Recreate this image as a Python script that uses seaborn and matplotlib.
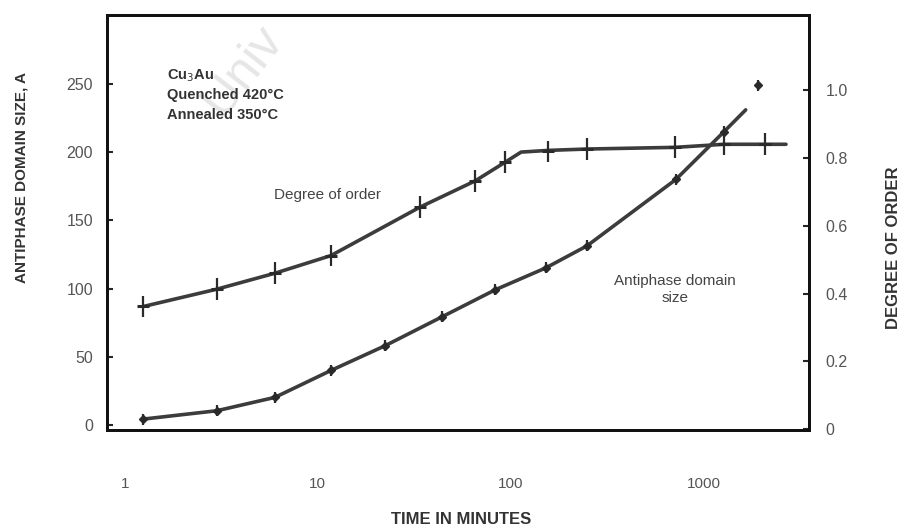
import matplotlib
matplotlib.use("Agg")
import matplotlib.pyplot as plt
import seaborn as sns
import pandas as pd
from matplotlib.ticker import FixedLocator, FixedFormatter, NullLocator

# ---- data ----
# Antiphase domain size (left axis, Angstrom)
aps_time = [1.25, 3.0, 6.0, 11.7, 22.3, 44.0, 83.0, 152.0, 248.0, 715.0, 1270.0]
aps_size = [4.5, 10.6, 20.4, 40.1, 58.2, 79.4, 99.2, 115.3, 131.4, 180.0, 215.0]
aps_line_time = aps_time + [1645.0]
aps_line_size = aps_size + [231.0]
aps_extra_time = [1900.0]
aps_extra_size = [249.0]

# Degree of order (right axis)
ord_time = [1.25, 3.0, 6.0, 11.7, 33.9, 65.3, 93.3, 156.0, 248.0, 710.0, 1270.0, 2070.0]
ord_value = [0.362, 0.413, 0.460, 0.512, 0.655, 0.732, 0.787, 0.819, 0.826, 0.831, 0.840, 0.840]
ord_line_time = [1.25, 3.0, 6.0, 11.7, 33.9, 65.3, 93.3, 113.0, 156.0, 248.0, 710.0, 1270.0, 2070.0, 2660.0]
ord_line_value = [0.362, 0.413, 0.460, 0.512, 0.655, 0.732, 0.787, 0.817, 0.822, 0.826, 0.831, 0.840, 0.840, 0.840]

x_ticks = [1, 10, 100, 1000]
x_ticklabels = ["1", "10", "100", "1000"]
left_ticks = [0, 50, 100, 150, 200, 250]
left_ticklabels = ["0", "50", "100", "150", "200", "250"]
right_ticks = [0.0, 0.2, 0.4, 0.6, 0.8, 1.0]
right_ticklabels = ["0", "0.2", "0.4", "0.6", "0.8", "1.0"]

sns.set_theme(style="white")
plt.rcParams["font.family"] = ["Liberation Sans", "DejaVu Sans"]

fig = plt.figure(figsize=(9.07, 5.31), dpi=100)
ax = fig.add_axes([107/907, 1-430/531, (809-107)/907, (430-15)/531])
ax2 = ax.twinx()

line_col = "#3c3c3c"
df_aps = pd.DataFrame({"t": aps_line_time, "v": aps_line_size})
df_ord = pd.DataFrame({"t": ord_line_time, "v": ord_line_value})

sns.lineplot(data=df_aps, x="t", y="v", ax=ax, color=line_col, lw=2.6, sort=False)
ax.errorbar(aps_time, aps_size, yerr=4, fmt="D", ms=4, color="#2a2a2a",
            ecolor="#2a2a2a", elinewidth=1.6, capsize=0, zorder=3)
ax.errorbar(aps_extra_time, aps_extra_size, yerr=4, fmt="D", ms=4, color="#2a2a2a",
            ecolor="#2a2a2a", elinewidth=1.6, capsize=0, zorder=3)

sns.lineplot(data=df_ord, x="t", y="v", ax=ax2, color=line_col, lw=2.6, sort=False)
ax2.errorbar(ord_time, ord_value, yerr=0.032, fmt="_", ms=9, mew=2.2, color="#2a2a2a",
             ecolor="#2a2a2a", elinewidth=1.6, capsize=0, zorder=3)

ax.set_xscale("log")
ax.set_xlim(0.81, 3500)
ax.set_ylim(-3.5, 300.5)
ax2.set_ylim(-0.002, 1.221)

ax.xaxis.set_major_locator(FixedLocator(x_ticks))
ax.xaxis.set_major_formatter(FixedFormatter(x_ticklabels))
ax.xaxis.set_minor_locator(NullLocator())
ax.yaxis.set_major_locator(FixedLocator(left_ticks))
ax.yaxis.set_major_formatter(FixedFormatter(left_ticklabels))
ax2.yaxis.set_major_locator(FixedLocator(right_ticks))
ax2.yaxis.set_major_formatter(FixedFormatter(right_ticklabels))

tick_col = "#555555"
ax.tick_params(axis="x", length=0, pad=34, labelsize=11, labelcolor=tick_col)
ax.tick_params(axis="y", direction="in", length=4, width=1.5, pad=10,
               labelsize=11.5, labelcolor=tick_col, left=True)
ax2.tick_params(axis="y", direction="in", length=4, width=1.5, pad=12,
                labelsize=11.5, labelcolor=tick_col, right=True)

for a in (ax, ax2):
    for s in a.spines.values():
        s.set_visible(True)
        s.set_color("#111111")
        s.set_linewidth(2.0)
    a.grid(False)

ax.set_xlabel("")
ax.set_ylabel("")
ax2.set_ylabel("")

fig.text(461/907, 1-519/531, "TIME IN MINUTES", ha="center", va="center",
         fontsize=12, fontweight="bold", color="#333333")
fig.text(22/907, 1-178/531, "ANTIPHASE DOMAIN SIZE, A", ha="center", va="center",
         rotation=90, fontsize=11, fontweight="bold", color="#333333")
fig.text(893/907, 1-248/531, "DEGREE OF ORDER", ha="center", va="center",
         rotation=90, fontsize=12, fontweight="bold", color="#333333")

fig.text(167/907, 1-76/531, "Cu$_3$Au", ha="left", va="center",
         fontsize=10.5, fontweight="bold", color="#333333")
fig.text(167/907, 1-95/531, "Quenched 420°C", ha="left", va="center",
         fontsize=10.5, fontweight="bold", color="#333333")
fig.text(167/907, 1-115/531, "Annealed 350°C", ha="left", va="center",
         fontsize=10.5, fontweight="bold", color="#333333")

fig.text(327/907, 1-195/531, "Degree of order", ha="center", va="center",
         fontsize=11, color="#444444")
fig.text(675/907, 1-281/531, "Antiphase domain", ha="center", va="center",
         fontsize=11, color="#444444")
fig.text(675/907, 1-298/531, "size", ha="center", va="center",
         fontsize=11, color="#444444")

# faint watermark
fig.text(222/907, 1-118/531, "Univ", ha="left", va="baseline",
         rotation=52, rotation_mode="anchor", fontsize=36, color="#e6e6e6", zorder=0)

fig.savefig("out.png", dpi=100)
